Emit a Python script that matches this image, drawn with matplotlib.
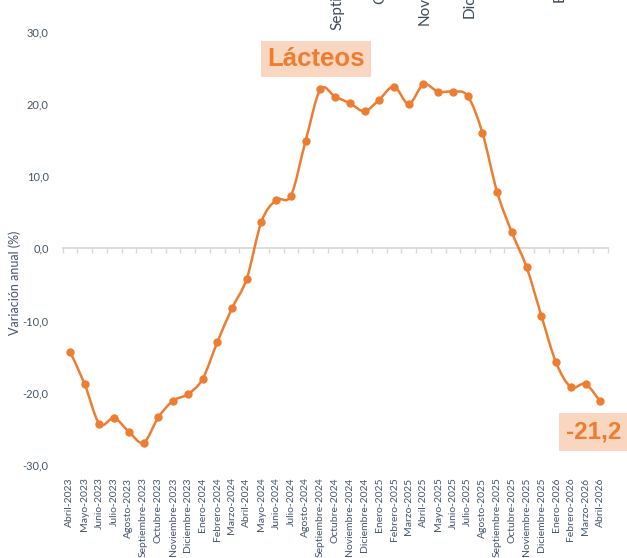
import matplotlib.pyplot as plt
import numpy as np
from matplotlib.path import Path
from matplotlib.patches import PathPatch

meses = ['Abril', 'Mayo', 'Junio', 'Julio', 'Agosto', 'Septiembre', 'Octubre',
         'Noviembre', 'Diciembre', 'Enero', 'Febrero', 'Marzo']
labels = []
for i in range(37):
    m = meses[i % 12]
    year = 2023 + (i + 3) // 12
    labels.append(f'{m}-{year}')

values = [-14.3, -18.8, -24.3, -23.5, -25.4, -26.9, -23.4, -21.1, -20.2, -18.1,
          -13.0, -8.3, -4.2, 3.7, 6.7, 7.3, 14.9, 22.0, 21.0, 20.1,
          19.0, 20.6, 22.4, 20.0, 22.7, 21.7, 21.7, 21.1, 16.0, 7.8,
          2.2, -2.6, -9.3, -15.8, -19.2, -18.8, -21.2]

# labels left over at the top edge of the picture
stray = ['Septiembre-2025', 'Octubre-2025', 'Noviembre-2025', 'Diciembre-2025', 'Enero-2026']
stray_x = [337, 380, 425, 470, 560]
stray_bottom = [30, 4, 25, 18, 2]

orange = '#ed7d31'
peach = '#f8d6bf'
txt = '#44546a'
grey = '#d9d9d9'
W, H = 627, 558

plt.rcParams['font.family'] = ['Lato', 'DejaVu Sans']
fig = plt.figure(figsize=(W / 100, H / 100), dpi=100)
ax = fig.add_axes([62.6 / W, 1 - 465 / H, 545 / W, (465 - 31.7) / H])

x = np.arange(len(values))
y = np.array(values)

# smoothed line (Catmull-Rom as bezier segments)
verts = [(x[0], y[0])]
codes = [Path.MOVETO]
n = len(x)
for i in range(n - 1):
    p0 = np.array([x[max(i - 1, 0)], y[max(i - 1, 0)]])
    p1 = np.array([x[i], y[i]])
    p2 = np.array([x[i + 1], y[i + 1]])
    p3 = np.array([x[min(i + 2, n - 1)], y[min(i + 2, n - 1)]])
    c1 = p1 + (p2 - p0) / 6
    c2 = p2 - (p3 - p1) / 6
    verts += [tuple(c1), tuple(c2), tuple(p2)]
    codes += [Path.CURVE4] * 3
ax.add_patch(PathPatch(Path(verts, codes), fill=False, edgecolor=orange, lw=1.8, zorder=3))
ax.plot(x, y, ls='none', marker='o', ms=5, color=orange, zorder=4)

ax.set_xlim(-0.5, len(values) - 0.5)
ax.set_ylim(-30, 30)
ax.set_yticks(np.arange(-30, 31, 10))
ax.set_yticklabels([f'{v:.1f}'.replace('.', ',') for v in np.arange(-30, 31, 10)])
ax.set_xticks(x)
ax.set_xticklabels(labels, rotation=90)
ax.tick_params(axis='both', length=0, labelcolor=txt)
ax.tick_params(axis='x', pad=9, labelsize=7.5)
ax.tick_params(axis='y', pad=10, labelsize=8)
for s in ax.spines.values():
    s.set_visible(False)

# category axis crossing at zero
sec = ax.secondary_xaxis(0.5)
sec.set_xticks(np.arange(-0.5, len(values), 1))
sec.set_xticklabels([])
sec.xaxis.set_ticks_position('bottom')
sec.tick_params(direction='out', length=3.5, color=grey, width=1)
for name, s in sec.spines.items():
    s.set_color(grey)
    s.set_linewidth(1.3)
    s.set_visible(name == 'bottom')

fig.text(15 / W, 1 - 283 / H, 'Variación anual (%)', rotation=90, ha='center',
         va='center', fontsize=9, color=txt)

fig.text(316 / W, 1 - 59 / H, 'Lácteos', ha='center', va='center', fontsize=18.5,
         fontweight='bold', color=orange, family=['Liberation Sans', 'DejaVu Sans'],
         bbox=dict(boxstyle='square,pad=0.25', fc=peach, ec='none'))
fig.text(566 / W, 1 - 432 / H, f'{values[-1]:.1f}'.replace('.', ','), ha='left',
         va='center', fontsize=17.5, fontweight='bold', color=orange,
         family=['Liberation Sans', 'DejaVu Sans'],
         bbox=dict(boxstyle='square,pad=0.3', fc=peach, ec='none'))

for s, sx, sb in zip(stray, stray_x, stray_bottom):
    fig.text(sx / W, 1 - sb / H, s, rotation=90, ha='center', va='bottom',
             fontsize=11, color='#3b4a5a')

fig.savefig('out.png', dpi=100)
